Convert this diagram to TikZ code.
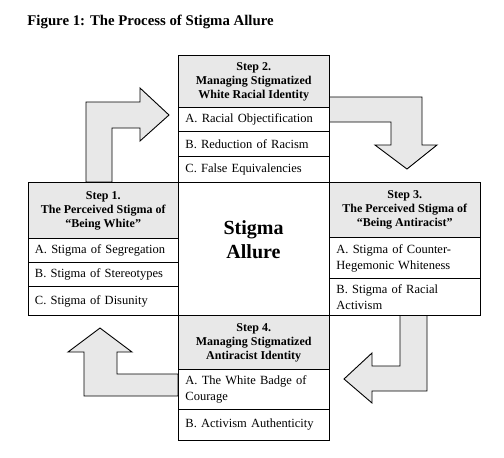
\documentclass[tikz,border=0pt]{standalone}
\usepackage{fontspec}
\setmainfont{Liberation Serif}
\usetikzlibrary{positioning}
\definecolor{shade}{gray}{0.91}
\tikzset{
  head/.style={draw, fill=shade, anchor=north west, align=center,
    minimum width=150.5, inner sep=3pt,
    font=\bfseries\fontsize{12}{14}\selectfont},
  item/.style={draw, fill=white, anchor=north west, align=left,
    text width=136.5, inner xsep=7pt, inner ysep=2pt,
    font=\fontsize{12.5}{16}\selectfont},
  turn/.style={draw, fill=shade, line join=miter}
}
\begin{document}
\begin{tikzpicture}[x=1pt, y=-1pt, line width=0.9pt]
\useasboundingbox (0,0) rectangle (504,458);

% title
\node[anchor=base west, inner sep=0pt, font=\bfseries\fontsize{14.8}{17}\selectfont] (title) at (27,25) {Figure 1: The Process of Stigma Allure};

% arrows (behind the boxes)
\draw[turn] (86,182) -- (86,102) -- (140,102) -- (140,88) -- (169,115) -- (140,141) -- (140,128) -- (112,128) -- (112,182) -- cycle;
\draw[turn] (329,97) -- (422,97) -- (422,145) -- (437,145) -- (407,169) -- (375,145) -- (391,145) -- (391,122) -- (329,122) -- cycle;
\draw[turn] (400,315) -- (427,315) -- (427,391) -- (372,391) -- (372,403) -- (344,379) -- (372,353) -- (372,366) -- (400,366) -- cycle;
\draw[turn] (178,374) -- (178,396) -- (84,396) -- (84,352) -- (68,352) -- (100,328) -- (132,352) -- (117,352) -- (117,374) -- cycle;

% step 2
\begin{scope}
\node[head, minimum height=52] (s2) at (178,55) {Step 2.\\Managing Stigmatized\\White Racial Identity};
\node[item, minimum height=24] (s2a) at (178,107) {A. Racial Objectification};
\node[item, minimum height=25] (s2b) at (178,131) {B. Reduction of Racism};
\node[item, minimum height=26] (s2c) at (178,156) {C. False Equivalencies};
\end{scope}

% step 1
\begin{scope}
\node[head, minimum height=56] (s1) at (27.5,182) {Step 1.\\The Perceived Stigma of\\``Being White''};
\node[item, minimum height=24] (s1a) at (27.5,238) {A. Stigma of Segregation};
\node[item, minimum height=24] (s1b) at (27.5,262) {B. Stigma of Stereotypes};
\node[item, minimum height=29] (s1c) at (27.5,286) {C. Stigma of Disunity};
\end{scope}

% step 3
\begin{scope}
\node[head, minimum height=55] (s3) at (329,182) {Step 3.\\The Perceived Stigma of\\``Being Antiracist''};
\node[item, minimum height=41] (s3a) at (329,237) {A. Stigma of Counter-\\Hegemonic Whiteness};
\node[item, minimum height=37] (s3b) at (329,278) {B. Stigma of Racial\\Activism};
\end{scope}

% step 4
\begin{scope}
\node[head, minimum height=54] (s4) at (178,315) {Step 4.\\Managing Stigmatized\\Antiracist Identity};
\node[item, minimum height=40] (s4a) at (178,369) {A. The White Badge of\\Courage};
\node[item, minimum height=31] (s4b) at (178,409) {B. Activism Authenticity};
\end{scope}

% centre
\node[align=center, font=\bfseries\fontsize{20}{24}\selectfont] (allure) at (253.5,240) {Stigma\\Allure};
\end{tikzpicture}
\end{document}
